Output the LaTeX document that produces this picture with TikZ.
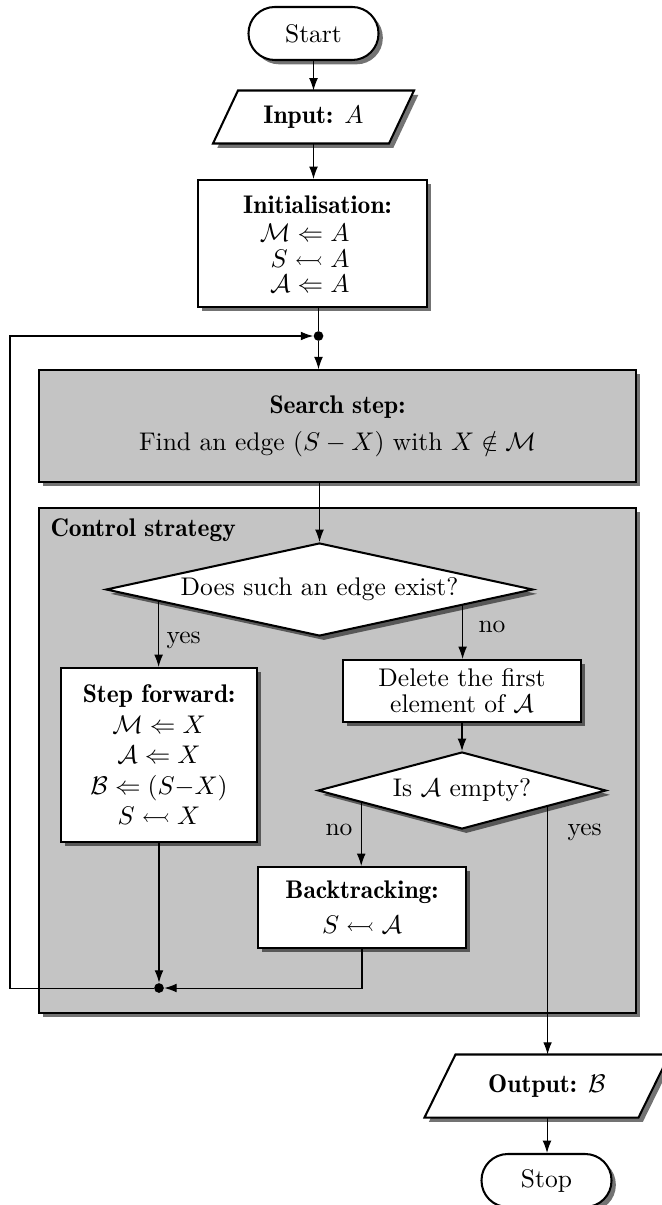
\documentclass[tikz,border=0pt]{standalone}
\usepackage{amssymb}
\usetikzlibrary{shapes.geometric,shadows,arrows.meta,calc,backgrounds}

% one drawing unit
\newcommand\pxu{0.392pt}
% non-extended bold for headings
\newcommand\demi[1]{{\fontseries{b}\selectfont #1}}

\definecolor{panel}{gray}{0.77}

\tikzset{
  castshadow/.style={drop shadow={shadow xshift=1.7pt, shadow yshift=-1.7pt, opacity=0.55, fill=black}},
  dims/.style args={#1x#2}{minimum width=#1*\pxu, minimum height=#2*\pxu},
  whitebox/.style={draw, thick, fill=white, castshadow, rectangle, inner sep=0pt, align=center},
  graybox/.style={draw, semithick, fill=panel, castshadow, rectangle, inner sep=0pt},
  terminal/.style={draw, thick, fill=white, castshadow, rectangle, rounded corners=10.3pt,
                   dims=130x53, inner sep=0pt},
  decision/.style={draw, thick, fill=white, castshadow, diamond, inner sep=1pt},
  iobox/.style={rectangle, inner sep=0pt},
  ioshape/.style={draw, thick, fill=white, castshadow},
  link/.style={-{Latex[length=4.8pt,width=3.4pt]}},
  junction/.style={circle, fill=black, inner sep=0pt, minimum size=3.8pt},
  tag/.style={inner sep=0pt},
}

\begin{document}
\begin{tikzpicture}[x=\pxu, y=-\pxu]
\useasboundingbox (0,0) rectangle (662,1205);

% terminals and input
\node[terminal] (start) at (313.5,33.5) {Start};

\node[iobox, dims=200x52] (input) at (313.5,117) {\demi{Input:} $A$};
\begin{pgfonlayer}{background}
  \path[ioshape] ([xshift=25*\pxu]input.north west) -- (input.north east)
    -- ([xshift=-25*\pxu]input.south east) -- (input.south west) -- cycle;
\end{pgfonlayer}

% initialisation
\node[whitebox, dims=229x127] (init) at (312.5,243.5) {};
\node[align=center, inner sep=0pt] (inittext) at (317.5,244.5)
  {\demi{Initialisation:}\\[-1pt]
   \makebox[25pt][r]{$\mathcal{M}\Leftarrow A$}\\[-2pt]
   \makebox[25pt][r]{$S\leftarrowtail A$}\\[-2pt]
   \makebox[25pt][r]{$\mathcal{A}\Leftarrow A$}};

\node[junction] (topdot) at (318.5,336) {};

% search step
\node[graybox, dims=597x112, align=center] (search) at (337.5,426)
  {\demi{Search step:}\\[2.5pt] Find an edge $(S-X)$ with $X\notin\mathcal{M}$};

% control strategy panel
\node[graybox, dims=597x505] (control) at (337.5,760.5) {};
\node[tag, anchor=west] (controltitle) at (50,530) {\demi{Control strategy}};

\node[decision, aspect=4.6, dims=427x93] (d1) at (319.5,589.5) {Does such an edge exist?};

\node[whitebox, dims=196x174] (sf) at (159,755)
  {\demi{Step forward:}\\
   $\mathcal{M}\Leftarrow X$\\
   $\mathcal{A}\Leftarrow X$\\
   $\mathcal{B}\Leftarrow (S{-}X)$\\
   $S\leftarrowtail X$};

\node[whitebox, dims=238x62] (del) at (462,691)
  {Delete the first\\[-1.8pt] element of $\mathcal{A}$};

\node[decision, aspect=3.74, dims=288x77] (d2) at (462,790.5) {Is $\mathcal{A}$ empty?};

\node[whitebox, dims=208x81] (bt) at (362,907.5)
  {\demi{Backtracking:}\\[1.7pt] $S\leftarrowtail\mathcal{A}$};

\node[junction] (botdot) at (159,988) {};
\coordinate (loopcorner) at (10,988);

% output and stop
\node[iobox, dims=244x62] (output) at (547,1086) {\demi{Output:} $\mathcal{B}$};
\begin{pgfonlayer}{background}
  \path[ioshape] ([xshift=31*\pxu]output.north west) -- (output.north east)
    -- ([xshift=-31*\pxu]output.south east) -- (output.south west) -- cycle;
\end{pgfonlayer}

\node[terminal] (stop) at (546.5,1180.5) {Stop};

% branch points on the decisions
\coordinate (d1yes) at ($(d1.west)!0.25!(d1.south)$);
\coordinate (d1no)  at ($(d1.east)!0.333!(d1.south)$);
\coordinate (d2no)  at ($(d2.west)!0.305!(d2.south)$);
\coordinate (d2yes) at ($(d2.east)!0.41!(d2.south)$);

% connectors
\draw[link] (start.south) -- (start.south |- input.north);
\draw[link] (input.south) -- (input.south |- init.north);
\draw (init.south -| topdot) -- (topdot);
\draw[link] (topdot) -- (topdot |- search.north);
\draw[link] (d1.north |- search.south) -- (d1.north);

\draw[link] (d1yes) -- (d1yes |- sf.north);
\draw[link] (d1no) -- (d1no |- del.north);
\draw[link] (del.south) -- (d2.north);
\draw[link] (d2no) -- (d2no |- bt.north);
\draw[link] (d2yes) -- (d2yes |- output.north);

\draw[link] (sf.south) -- (botdot);
\draw[link] (bt.south) |- (botdot);
\draw[link] (botdot) -- (loopcorner) |- (topdot);

\draw[link] (output.south) -- (output.south |- stop.north);

% branch labels
\node[tag, anchor=base west] (yeslabel1) at (166,643) {yes};
\node[tag, anchor=base west] (nolabel1)  at (478,632) {no};
\node[tag, anchor=base east] (nolabel2)  at (353,835) {no};
\node[tag, anchor=base west] (yeslabel2) at (567,835) {yes};
\end{tikzpicture}
\end{document}
